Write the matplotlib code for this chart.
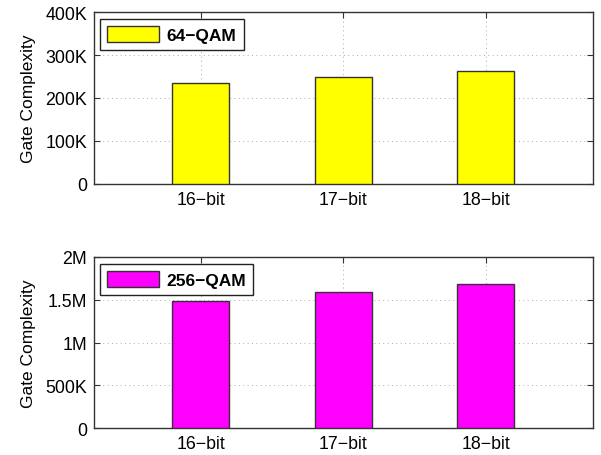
import matplotlib
matplotlib.use("Agg")
import matplotlib.pyplot as plt

plt.rcParams['font.family'] = ['Liberation Sans', 'DejaVu Sans']

categories = ["16\u2212bit", "17\u2212bit", "18\u2212bit"]
qam64_gates = [236000, 250000, 264000]
qam256_gates = [1490000, 1590000, 1680000]

top_ticks = [0, 100000, 200000, 300000, 400000]
top_labels = ["0", "100K", "200K", "300K", "400K"]
bottom_ticks = [0, 500000, 1000000, 1500000, 2000000]
bottom_labels = ["0", "500K", "1M", "1.5M", "2M"]

fig = plt.figure(figsize=(6.01, 4.56), dpi=100)
ax1 = fig.add_axes([0.1564, 0.595, 0.830, 0.376])
ax2 = fig.add_axes([0.1564, 0.0586, 0.830, 0.376])

panels = [
    (ax1, qam64_gates, "#ffff00", "64\u2212QAM", top_ticks, top_labels),
    (ax2, qam256_gates, "#ff00ff", "256\u2212QAM", bottom_ticks, bottom_labels),
]

x = [1, 2, 3]
for ax, vals, color, name, yt, yl in panels:
    ax.bar(x, vals, width=0.4, color=color, edgecolor="#333333",
           linewidth=1.0, label=name, zorder=3)
    ax.set_xlim(0.25, 3.75)
    ax.set_ylim(yt[0], yt[-1])
    ax.set_xticks(x)
    ax.set_xticklabels(categories)
    ax.set_yticks(yt)
    ax.set_yticklabels(yl)
    ax.grid(True, linestyle=(0, (1, 3.5)), color="#aaaaaa", linewidth=0.7, zorder=0)
    ax.tick_params(direction="in", top=True, right=True, length=4,
                   labelsize=12.8, color="#333333", pad=5)
    for sp in ax.spines.values():
        sp.set_color("#333333")
        sp.set_linewidth(1.0)
    ax.set_ylabel("Gate Complexity", fontsize=12.5, labelpad=7)
    leg = ax.legend(loc="upper left", fancybox=False, framealpha=1,
                    edgecolor="#222222", handlelength=3.0, handleheight=1.05,
                    borderpad=0.4, handletextpad=0.45, borderaxespad=0,
                    prop={"weight": "bold", "size": 12.5},
                    bbox_to_anchor=(0.012, 0.959))
    leg.get_frame().set_linewidth(1.0)
    leg.set_zorder(5)

fig.savefig("out.png", dpi=100)
